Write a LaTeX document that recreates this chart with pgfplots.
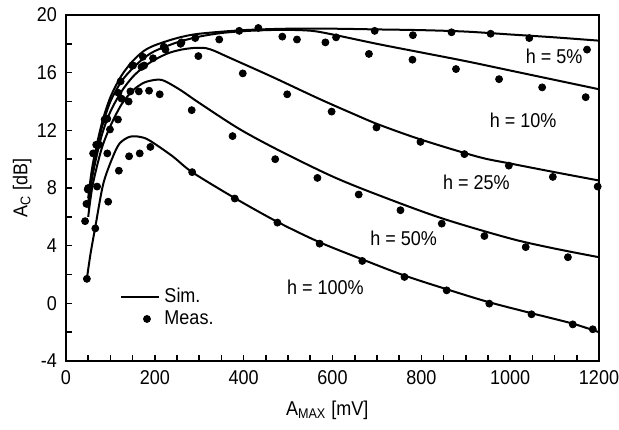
\documentclass[border=0pt]{standalone}
\usepackage{fontspec}
\setmainfont{Liberation Sans}[FakeStretch=0.9]
\usepackage{pgfplots}
\pgfplotsset{compat=1.18}
\pgfplotsset{
  simleg/.style={legend image code/.code={\draw[##1] (0cm,0cm) -- (0.67cm,0cm);}},
  measleg/.style={legend image code/.code={\path[draw=none,fill=none] (0cm,-0.05cm) rectangle (0.67cm,0.05cm); \draw[##1] plot coordinates {(0.45cm,0cm)};}},
}
\begin{document}
\begin{tikzpicture}
\begin{axis}[
  scale only axis, width=266.5pt, height=173pt,
  xmin=0, xmax=1200, ymin=-4, ymax=20,
  xtick={0,200,...,1200}, minor xtick={50,100,...,1150},
  ytick={-4,0,...,20}, minor ytick={-2,2,...,18},
  tick pos=left, tick align=inside,
  major tick length=3pt, minor tick length=3pt,
  every tick/.style={black, line width=0.8pt},
  axis line style={line width=1.3pt},
  /pgf/number format/assume math mode=true,
  /pgf/number format/1000 sep={},
  ticklabel style={font=\fontsize{10}{12}\selectfont},
  xticklabel style={yshift=-1pt},
  yticklabel style={xshift=-1pt},
  xlabel={A\textsubscript{MAX} [mV]},
  ylabel={A\textsubscript{C} [dB]},
  label style={font=\fontsize{10}{12}\selectfont},
  xlabel style={at={(axis description cs:0.49,-0.142)}, anchor=center},
  ylabel style={at={(axis description cs:-0.082,0.5)}, anchor=center},
  legend style={draw=none, fill=none, at={(0.09,0.235)}, anchor=north west,
    font=\fontsize{10}{12}\selectfont, row sep=-1.5pt},
  legend cell align=left,
  clip=false,
]
% Simulation curves
\addplot[black, line width=1pt, smooth, no markers, simleg] coordinates {
(50,7.3)(60,9.6)(80,12.4)(100,14.3)(125,15.8)(150,16.8)(175,17.5)(200,17.9)(250,18.4)(300,18.7)(400,18.95)(500,19.05)(600,19.05)(700,19.0)(800,18.95)(900,18.85)(1000,18.65)(1100,18.45)(1200,18.22)};
\addlegendentry{Sim.}
\addplot[only marks, mark=*, mark size=1.75pt, black, measleg] coordinates {
(50,8.0)(75,11.0)(87,12.75)(118,14.6)(149,16.5)(173,17.1)(220,17.8)(258,18.0)(345,18.3)(433,19.1)(520,18.3)(608,18.45)(695,18.9)(781,18.6)(868,18.8)(956,18.7)(1043,18.4)(1173,17.6)};
\addlegendentry{Meas.}
\addplot[black, line width=1pt, smooth, no markers] coordinates {
(50,7.0)(60,9.3)(80,12.1)(100,14.0)(125,15.4)(150,16.3)(175,17.0)(200,17.5)(250,18.1)(300,18.5)(350,18.75)(400,18.88)(450,18.95)(500,18.97)(554,18.9)(600,18.65)(700,18.0)(800,17.4)(900,16.8)(1000,16.15)(1100,15.5)(1200,14.85)};
\addplot[black, line width=1pt, smooth, no markers] coordinates {
(50,6.6)(60,8.9)(80,11.6)(100,13.3)(125,14.7)(150,15.7)(175,16.4)(200,16.9)(230,17.35)(260,17.6)(290,17.72)(315,17.7)(335,17.5)(360,17.15)(400,16.6)(465,15.7)(569,14.2)(650,13.1)(704,12.4)(800,11.35)(928,10.16)(1000,9.7)(1100,9.1)(1200,8.52)};
\addplot[black, line width=1pt, smooth, no markers] coordinates {
(50,6.0)(60,8.2)(80,10.7)(100,12.3)(125,13.8)(150,14.75)(175,15.3)(200,15.5)(215,15.5)(230,15.3)(260,14.75)(300,13.9)(390,12.1)(480,10.6)(600,8.8)(704,7.5)(846,5.9)(1000,4.5)(1100,3.8)(1200,3.2)};
\addplot[black, line width=1pt, smooth, no markers] coordinates {
(47,1.7)(55,3.4)(66,5.3)(84,8.3)(106,10.2)(121,11.1)(143,11.55)(166,11.55)(188,11.3)(240,10.2)(284,9.1)(380,7.3)(476,5.65)(570,4.25)(667,3.05)(760,1.95)(860,0.95)(950,0.1)(1050,-0.7)(1140,-1.4)(1200,-2.0)};
% Measurements
\addplot[only marks, mark=*, mark size=1.75pt, black] coordinates {
(49,7.9)(68,11.0)(93,12.8)(123,15.4)(151,16.5)(176,16.5)(196,17.0)(224,17.6)(291,18.4)(390,18.9)(487,18.5)(584,18.1)(682,17.3)(780,16.9)(878,16.25)(975,15.55)(1072,14.98)(1170,14.3)};
\addplot[only marks, mark=*, mark size=1.75pt, black] coordinates {
(46,6.9)(61,10.4)(99,12.06)(125,14.2)(145,14.7)(170,16.4)(260,18.1)(298,17.15)(398,15.95)(498,14.5)(598,13.3)(699,12.2)(798,11.2)(897,10.35)(997,9.55)(1096,8.77)(1197,8.1)};
\addplot[only marks, mark=*, mark size=1.75pt, black] coordinates {
(43,5.7)(70,8.1)(93,10.4)(117,12.75)(141,14.0)(164,14.7)(187,14.75)(211,14.5)(283,13.4)(375,11.6)(471,10.0)(566,8.7)(659,7.55)(753,6.46)(846,5.53)(942,4.67)(1035,3.9)(1130,3.2)};
\addplot[only marks, mark=*, mark size=1.75pt, black] coordinates {
(47,1.7)(66,5.2)(95,7.05)(119,9.2)(142,10.2)(166,10.4)(190,10.85)(284,9.1)(380,7.27)(476,5.6)(571,4.14)(667,2.94)(762,1.83)(857,0.9)(953,-0.02)(1048,-0.76)(1141,-1.46)(1186,-1.8)};
% Labels
\node[font=\fontsize{10}{12}\selectfont] at (axis cs:1099,17.1) {h = 5\%};
\node[font=\fontsize{10}{12}\selectfont] at (axis cs:1029,12.7) {h = 10\%};
\node[font=\fontsize{10}{12}\selectfont] at (axis cs:924,8.4) {h = 25\%};
\node[font=\fontsize{10}{12}\selectfont] at (axis cs:760,4.5) {h = 50\%};
\node[font=\fontsize{10}{12}\selectfont] at (axis cs:584,1.13) {h = 100\%};
\end{axis}
\pgfresetboundingbox
\path ([xshift=-33pt,yshift=-34pt]current axis.south west) rectangle ([xshift=10pt,yshift=7.5pt]current axis.north east);
\end{tikzpicture}
\end{document}
